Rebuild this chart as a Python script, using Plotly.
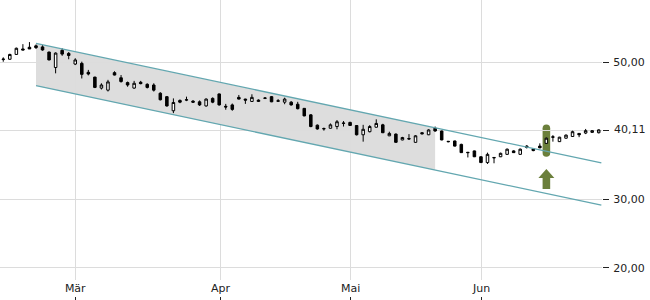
import plotly.graph_objects as go

# ---- data ----
open_ = [50.35, 50.4, 51.1, 51.9, 52.15, 52.35, 52.2, 51.45, 49.2, 51.7,
         51.25, 49.7, 49.8, 48.5, 47.8, 46.2, 45.9, 48.45, 47.7, 47.0,
         46.2, 47.05, 46.75, 46.65, 45.45, 44.95, 42.9, 44.4, 44.45, 44.3,
         44.2, 43.6, 44.7, 45.35, 43.55, 43.75, 44.85, 44.6, 44.25, 44.25,
         44.7, 44.95, 44.35, 44.15, 44.15, 43.85, 43.25, 42.3, 40.8, 40.25,
         40.35, 40.6, 41.05, 41.2, 40.75, 39.4, 39.85, 40.5, 40.85, 39.25,
         39.5, 38.65, 38.85, 38.3, 39.7, 39.4, 40.35, 39.95, 38.45, 38.5,
         38.0, 36.85, 37.05, 36.2, 35.35, 36.1, 36.2, 36.55, 37.05, 36.55,
         37.75, 37.35, 37.75, 38.15, 39.1, 38.4, 38.9, 39.15, 39.6, 39.65,
         39.75, 39.7]
high = [50.68, 51.2, 52.1, 52.6, 52.9, 52.55, 52.45, 51.5, 51.4, 52.0,
        51.45, 50.55, 50.05, 48.85, 47.85, 46.9, 47.4, 48.65, 48.1, 47.15,
        47.25, 47.25, 46.9, 46.9, 45.6, 45.05, 44.7, 44.55, 44.95, 44.45,
        44.4, 44.7, 44.85, 45.4, 43.9, 43.95, 45.2, 44.65, 45.3, 44.55,
        44.9, 45.05, 44.6, 44.8, 44.3, 44.2, 43.3, 42.4, 40.9, 40.45,
        41.05, 41.55, 41.4, 41.3, 40.8, 40.85, 40.8, 41.65, 41.0, 39.85,
        39.6, 39.1, 39.5, 39.35, 39.8, 40.2, 40.6, 40.0, 38.5, 38.55,
        38.1, 36.9, 37.1, 36.25, 36.8, 36.15, 36.8, 37.4, 37.15, 37.4,
        37.9, 37.45, 38.15, 39.0, 39.35, 39.1, 39.45, 40.0, 39.65, 40.25,
        40.05, 40.2]
low = [50.04, 50.35, 51.05, 51.75, 51.9, 51.9, 51.65, 50.25, 48.35, 50.9,
       50.4, 49.55, 47.6, 48.05, 46.2, 46.0, 45.7, 48.05, 47.0, 46.4,
       46.1, 46.75, 46.15, 45.7, 44.4, 43.5, 42.55, 44.0, 44.3, 44.05,
       43.6, 43.5, 44.0, 43.65, 43.05, 42.9, 44.55, 43.9, 44.2, 44.2,
       44.6, 44.15, 44.25, 43.85, 43.65, 43.1, 42.1, 40.5, 40.15, 40.0,
       40.3, 40.2, 40.6, 40.7, 39.3, 38.4, 39.75, 40.45, 39.65, 39.2,
       38.25, 38.6, 38.65, 38.25, 39.45, 39.35, 39.85, 38.6, 38.3, 37.7,
       36.75, 36.1, 36.15, 35.3, 35.15, 35.25, 36.15, 36.5, 36.75, 36.5,
       37.4, 37.0, 37.45, 38.1, 38.4, 38.35, 38.85, 39.1, 39.05, 39.5,
       39.7, 39.6]
close = [50.42, 51.1, 52.0, 51.75, 51.9, 52.1, 51.75, 50.3, 51.3, 51.15,
         50.95, 50.3, 48.2, 48.25, 46.3, 46.65, 47.1, 48.1, 47.15, 46.65,
         46.9, 46.85, 46.3, 45.9, 44.5, 43.6, 44.1, 44.15, 44.5, 44.15,
         43.75, 44.6, 44.15, 43.75, 43.45, 43.1, 44.6, 44.45, 44.85, 44.45,
         44.75, 44.2, 44.3, 44.6, 43.75, 43.2, 42.15, 40.6, 40.25, 40.3,
         40.85, 41.3, 41.1, 40.75, 39.4, 40.2, 40.6, 41.05, 39.7, 39.6,
         38.3, 39.0, 38.8, 39.25, 39.55, 40.1, 39.95, 38.65, 38.4, 37.75,
         36.8, 36.8, 36.2, 35.35, 36.55, 36.05, 36.7, 37.3, 36.8, 37.3,
         37.55, 37.1, 37.5, 38.9, 39.05, 39.05, 39.35, 39.85, 39.4, 40.0,
         40.0, 40.11]
x = list(range(len(open_)))

month_labels = ["Mär", "Apr", "Mai", "Jun"]
month_pos = [11, 33.2, 53.1, 73.1]

y_ticks = [20, 30, 40, 50]
y_ticktext = ["20,00", "30,00", "", "50,00"]
last_price_label = "40,11"

# trend channel (start / end index and values)
channel_x = [5, 91.4]
channel_upper = [52.7, 35.3]
channel_lower = [46.55, 29.15]
shade_end = 66          # index where the shaded part of the channel ends
signal_index = 83       # breakout candle

GREEN = "#6b7f3b"
TEAL = "#63a7b0"

def interp(xs, ys, xv):
    return ys[0] + (ys[1] - ys[0]) * (xv - xs[0]) / (xs[1] - xs[0])

fig = go.Figure()

fig.add_trace(go.Candlestick(
    x=x, open=open_, high=high, low=low, close=close,
    increasing=dict(fillcolor="white", line=dict(color="black", width=1)),
    decreasing=dict(fillcolor="black", line=dict(color="black", width=1)),
    whiskerwidth=0, hoverinfo="skip", showlegend=False,
))

for ys in (channel_upper, channel_lower):
    fig.add_trace(go.Scatter(x=channel_x, y=ys, mode="lines",
                             line=dict(color=TEAL, width=1.3),
                             hoverinfo="skip", showlegend=False,
                             cliponaxis=False))

# dummy trace for the bottom tick axis
fig.add_trace(go.Scatter(x=[0], y=[None], xaxis="x2", showlegend=False,
                         hoverinfo="skip"))

# shaded channel part
xs0, xs1 = channel_x[0], shade_end
u0, u1 = interp(channel_x, channel_upper, xs0), interp(channel_x, channel_upper, xs1)
l0, l1 = interp(channel_x, channel_lower, xs0), interp(channel_x, channel_lower, xs1)
fig.add_shape(type="path", layer="below",
              path=f"M {xs0},{u0} L {xs1},{u1} L {xs1},{l1} L {xs0},{l0} Z",
              fillcolor="#dddddd", line=dict(width=0))

# highlight pill around signal candle
sx = signal_index
hw = 0.58
top = high[sx] + 1.9
bot = low[sx] - 1.9
ry = 0.55
pill = (f"M {sx-hw},{bot+ry} L {sx-hw},{top-ry} "
        f"Q {sx-hw},{top} {sx},{top} Q {sx+hw},{top} {sx+hw},{top-ry} "
        f"L {sx+hw},{bot+ry} Q {sx+hw},{bot} {sx},{bot} Q {sx-hw},{bot} {sx-hw},{bot+ry} Z")
fig.add_shape(type="path", layer="below", path=pill,
              fillcolor=GREEN, line=dict(width=0))

# up arrow below signal candle
tip = low[sx] - 3.68
head_b = tip - 1.3
tail = tip - 2.9
ahw, shw = 1.22, 0.58
arrow = (f"M {sx},{tip} L {sx+ahw},{head_b} L {sx+shw},{head_b} L {sx+shw},{tail} "
         f"L {sx-shw},{tail} L {sx-shw},{head_b} L {sx-ahw},{head_b} Z")
fig.add_shape(type="path", path=arrow, fillcolor=GREEN, line=dict(width=0))

fig.add_annotation(x=1, xref="paper", y=close[-1], yref="y", text=last_price_label,
                   showarrow=False, xanchor="left", xshift=10,
                   font=dict(family="DejaVu Sans", size=11, color="#222"))

fig.update_layout(
    width=650, height=300,
    margin=dict(l=0, r=48, t=0, b=0),
    paper_bgcolor="white", plot_bgcolor="white",
    boxgap=0.45,
    font=dict(family="DejaVu Sans", size=11, color="#222"),
    xaxis=dict(range=[-0.5, 91.5], tickvals=month_pos, ticktext=month_labels,
               showgrid=True, gridcolor="#dcdcdc", gridwidth=1,
               zeroline=False, showline=False, ticks="", rangeslider=dict(visible=False),
               anchor="y", fixedrange=True),
    xaxis2=dict(matches="x", overlaying="x", anchor="free", position=0,
                tickvals=month_pos, ticktext=["", "", "", ""], ticks="inside",
                ticklen=3, tickcolor="#222", showgrid=False, zeroline=False,
                showline=False),
    yaxis=dict(range=[18.25, 59.03], side="right", domain=[20/300, 1],
               tickvals=y_ticks, ticktext=y_ticktext, ticklabelstandoff=2,
               showgrid=True, gridcolor="#dcdcdc", zeroline=False,
               ticks="outside", ticklen=6, tickcolor="#222", showline=False),
)

fig.write_html("out.html")
